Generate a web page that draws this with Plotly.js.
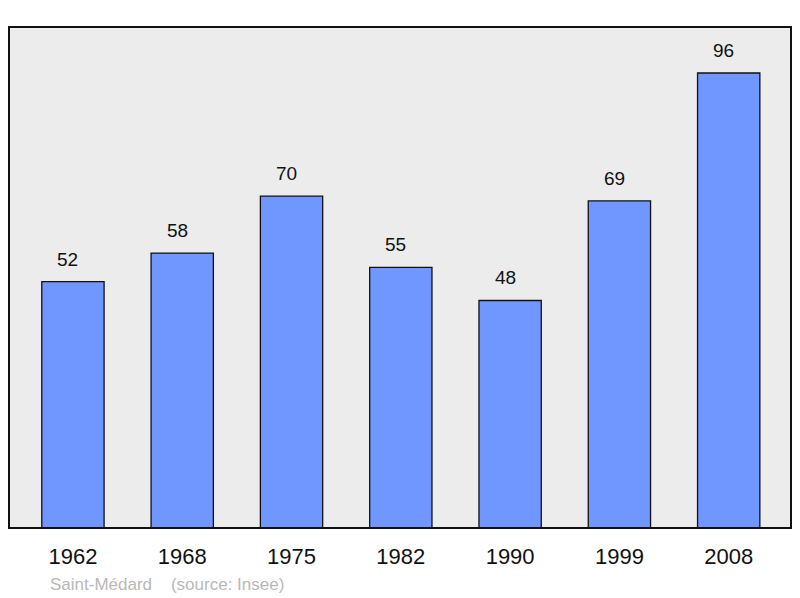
<!DOCTYPE html>
<html>
<head>
<meta charset="utf-8">
<script src="https://cdn.plot.ly/plotly-3.0.1.min.js"></script>
<style>
  body { margin: 0; background: #fff; }
  #chart { width: 800px; height: 598px; }
</style>
</head>
<body>
<div id="chart"></div>
<script>
// population by census year
const years = ['1962', '1968', '1975', '1982', '1990', '1999', '2008'];
const population = [52, 58, 70, 55, 48, 69, 96];
const caption = 'Saint-Médard    (source: Insee)';

const bars = {
    type: 'bar',
    x: years,
    y: population,
    width: 0.57,
    marker: {
        color: '#7097ff',
        line: {color: '#111', width: 1.3}
    },
    hoverinfo: 'skip'
};

// value labels sit a bit above each bar (x by category index, '1962' would be read as a number)
let labels = years.map((yr, i) => ({
    x: i,
    y: population[i],
    text: String(population[i]),
    showarrow: false,
    yanchor: 'bottom',
    yshift: 10,
    xshift: -5,
    font: {size: 19, color: '#111'}
}));

labels.push({
    xref: 'paper', yref: 'paper',
    x: 0.05, y: -0.112,
    xanchor: 'left', yanchor: 'middle',
    text: caption,
    showarrow: false,
    font: {size: 17, color: '#b8b8b8'}
});

const layout = {
    width: 800,
    height: 598,
    margin: {l: 9, r: 9, t: 27, b: 70},
    paper_bgcolor: '#ffffff',
    plot_bgcolor: '#ececec',
    font: {family: 'Liberation Sans, Arial, sans-serif'},
    showlegend: false,
    xaxis: {
        type: 'category',
        range: [-0.585, 6.57],
        showgrid: false,
        zeroline: false,
        ticks: '',
        ticklabelstandoff: 13,
        tickfont: {size: 22, color: '#111'},
        fixedrange: true
    },
    yaxis: {
        range: [0, 105.7],
        showgrid: false,
        zeroline: false,
        showticklabels: false,
        ticks: '',
        fixedrange: true
    },
    annotations: labels,
    shapes: [{
        type: 'rect',
        xref: 'paper', yref: 'paper',
        x0: 0, x1: 1, y0: 0, y1: 1,
        line: {color: '#111', width: 2}
    }]
};

Plotly.newPlot('chart', [bars], layout, {displayModeBar: false, staticPlot: true});
</script>
</body>
</html>
